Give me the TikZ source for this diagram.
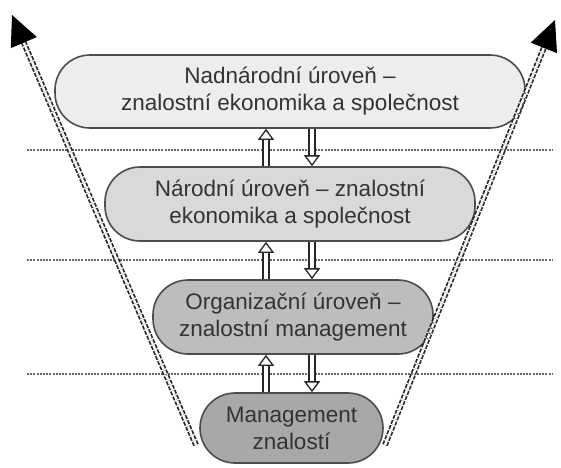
\documentclass[tikz,border=0pt]{standalone}
\usepackage{fontspec}
\setmainfont{Liberation Sans}
\usepackage{tikz}
\usetikzlibrary{arrows.meta, calc}
\usepackage{xcolor}
\definecolor{txtgray}{HTML}{333333}

\begin{document}
\begin{tikzpicture}[x=1pt, y=-1pt,
    level/.style={draw=black!70, line width=1.6pt, rounded corners=35pt, align=center,
        text=txtgray, font=\fontsize{22.5}{27}\selectfont, inner sep=0pt},
    sep/.style={black!60, line width=1.8pt, dash pattern=on 2pt off 1.2pt},
    flow/.style={draw=black!85, double=white, double distance=4.5pt, line width=1.3pt,
        -{Triangle[open, fill=white, length=11pt, width=16pt]}},
    side/.style={draw=black!85, double=white, double distance=2.4pt, line width=1.7pt,
        dash pattern=on 4pt off 1.5pt},
    sidetip/.style={-{Triangle[length=30pt, width=28pt]}, line width=1pt}]
    \useasboundingbox (0,0) rectangle (561,467);
    % levels
    \node[level, fill=black!7,  minimum width=470pt, minimum height=73pt] (b1) at (290,91.5)
        {Nadnárodní úroveň --\\znalostní ekonomika a společnost};
    \node[level, fill=black!15, minimum width=370pt, minimum height=74pt] (b2) at (290,204)
        {Národní úroveň -- znalostní\\ekonomika a společnost};
    \node[level, fill=black!26, minimum width=280pt, minimum height=74pt] (b3) at (293,317)
        {Organizační úroveň --\\znalostní management};
    \node[level, fill=black!34, minimum width=183pt, minimum height=70pt] (b4) at (291.5,428)
        {Management\\znalostí};
    % dotted separators
    \foreach \y in {150,260,374}
        \draw[sep] (27,\y) -- (553,\y);
    % flows between levels
    \coordinate (upx) at (266,0);
    \coordinate (dnx) at (312,0);
    \draw[flow] (b2.north -| upx) -- (b1.south -| upx);
    \draw[flow] (b1.south -| dnx) -- (b2.north -| dnx);
    \draw[flow] (b3.north -| upx) -- (b2.south -| upx);
    \draw[flow] (b2.south -| dnx) -- (b3.north -| dnx);
    \draw[flow] (b4.north -| upx) -- (b3.south -| upx);
    \draw[flow] (b3.south -| dnx) -- (b4.north -| dnx);
    % widening sides
    \coordinate (lb) at (196,445);
    \coordinate (lt) at (12,15);
    \coordinate (rb) at (385,445);
    \coordinate (rt) at (555,20);
    \draw[side] (lb) -- ($(lt)!24pt!(lb)$);
    \draw[side] (rb) -- ($(rt)!24pt!(rb)$);
    \draw[sidetip] ($(lt)!30pt!(lb)$) -- (lt);
    \draw[sidetip] ($(rt)!30pt!(rb)$) -- (rt);
\end{tikzpicture}
\end{document}
